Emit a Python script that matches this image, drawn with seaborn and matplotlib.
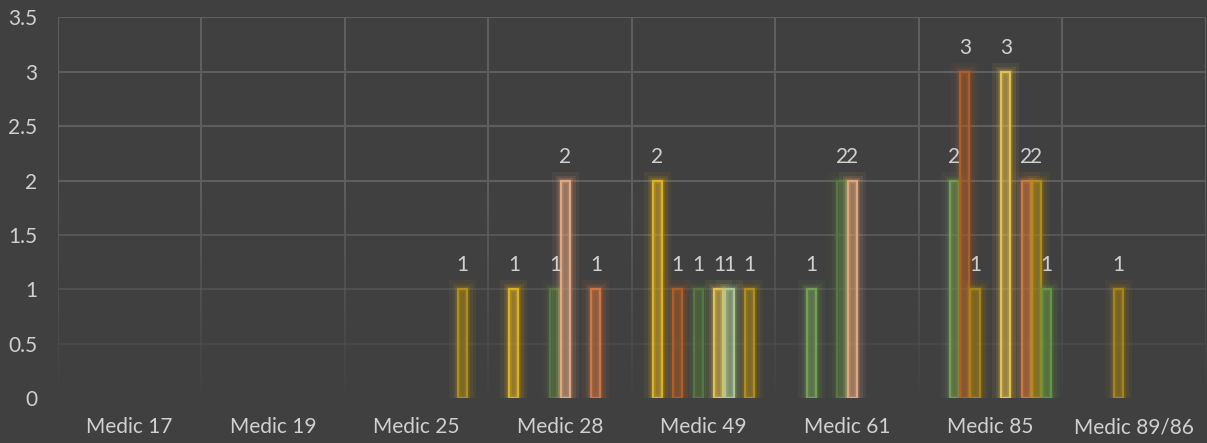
import numpy as np
import pandas as pd
import seaborn as sns
import matplotlib.pyplot as plt
import matplotlib.patheffects as pe
from matplotlib.colors import to_rgba
from matplotlib.collections import LineCollection

# categories on the x axis
medics = ['Medic 17', 'Medic 19', 'Medic 25', 'Medic 28',
          'Medic 49', 'Medic 61', 'Medic 85', 'Medic 89/86']

# series (12 of them, the first one has no values)
series = ['S1', 'S2', 'S3', 'S4', 'S5', 'S6',
          'S7', 'S8', 'S9', 'S10', 'S11', 'S12']

# values per series, None = empty cell
s1 = [None, None, None, None, None, None, None, None]
s2 = [None, None, None, 1, 2, None, None, None]
s3 = [None, None, None, None, None, 1, 2, None]
s4 = [None, None, None, None, 1, None, 3, None]
s5 = [None, None, None, None, None, None, 1, 1]
s6 = [None, None, None, 1, 1, 2, None, None]
s7 = [None, None, None, 2, None, 2, None, None]
s8 = [None, None, None, None, 1, None, 3, None]
s9 = [None, None, None, None, 1, None, None, None]
s10 = [None, None, None, 1, None, None, 2, None]
s11 = [None, None, 1, None, 1, None, 2, None]
s12 = [None, None, None, None, None, None, 1, None]
all_values = [s1, s2, s3, s4, s5, s6, s7, s8, s9, s10, s11, s12]

colors = ['#ED7D31', '#FFC000', '#70AD47', '#C55A11', '#BF9000', '#548235',
          '#F4A46E', '#FFCD33', '#A9D18E', '#E8702A', '#C99C00', '#62A03A']

y_ticks = [0, 0.5, 1, 1.5, 2, 2.5, 3, 3.5]
y_tick_labels = ['0', '0.5', '1', '1.5', '2', '2.5', '3', '3.5']

rows = []
for name, vals in zip(series, all_values):
    for m, v in zip(medics, vals):
        if v is not None:
            rows.append({'medic': m, 'series': name, 'count': v})
df = pd.DataFrame(rows)

bg = '#404040'
txt = '#D0D0D0'
grid_c = '#5E5E5E'
fonts = ['Lato', 'DejaVu Sans']

fig = plt.figure(figsize=(12.07, 4.43), dpi=100, facecolor=bg)
ax = fig.add_axes([0.048, 0.1016, 0.9508, 0.8589])
ax.set_facecolor(bg)
plt.rcParams['font.family'] = fonts

sns.barplot(data=df, x='medic', y='count', hue='series', order=medics,
            hue_order=series, palette=dict(zip(series, colors)),
            width=0.858, gap=0.12, dodge=True, errorbar=None,
            legend=False, ax=ax, zorder=3)

# hollow glowing bars
for cont in ax.containers:
    for bar in cont:
        c = bar.get_facecolor()
        bar.set_facecolor(to_rgba(c, 0.14))
        bar.set_edgecolor(to_rgba(c, 1.0))
        bar.set_linewidth(1.6)
        bar.set_path_effects([
            pe.Stroke(linewidth=13, foreground=c, alpha=0.07),
            pe.Stroke(linewidth=8, foreground=c, alpha=0.12),
            pe.Stroke(linewidth=4, foreground=c, alpha=0.2),
            pe.Normal()])
    ax.bar_label(cont, fmt='%g', padding=10, color=txt, fontsize=15,
                 family=fonts)

ax.set_xlim(-0.5, len(medics) - 0.5)
ax.set_ylim(0, 3.5)
ax.set_yticks(y_ticks, y_tick_labels)
ax.set_xlabel('')
ax.set_ylabel('')
ax.grid(False)
for sp in ax.spines.values():
    sp.set_visible(False)
ax.tick_params(axis='both', length=0, colors=txt, labelsize=15)
ax.tick_params(axis='y', pad=15)
ax.tick_params(axis='x', pad=14)
for lab in ax.get_xticklabels() + ax.get_yticklabels():
    lab.set_family(fonts)

# gridlines fading toward the bottom
for v in y_ticks[1:]:
    ax.axhline(v, color=grid_c, lw=1.5, alpha=min(1.0, v / 2.0), zorder=1)
steps = np.linspace(0, 3.5, 36)
for xv in np.arange(-0.5, len(medics), 1.0):
    segs = [[(xv, a), (xv, b)] for a, b in zip(steps[:-1], steps[1:])]
    cols = [to_rgba(grid_c, min(1.0, b / 2.0)) for b in steps[1:]]
    ax.add_collection(LineCollection(segs, colors=cols, lw=1.5, zorder=1))

fig.savefig('out.png', dpi=100, facecolor=bg)
